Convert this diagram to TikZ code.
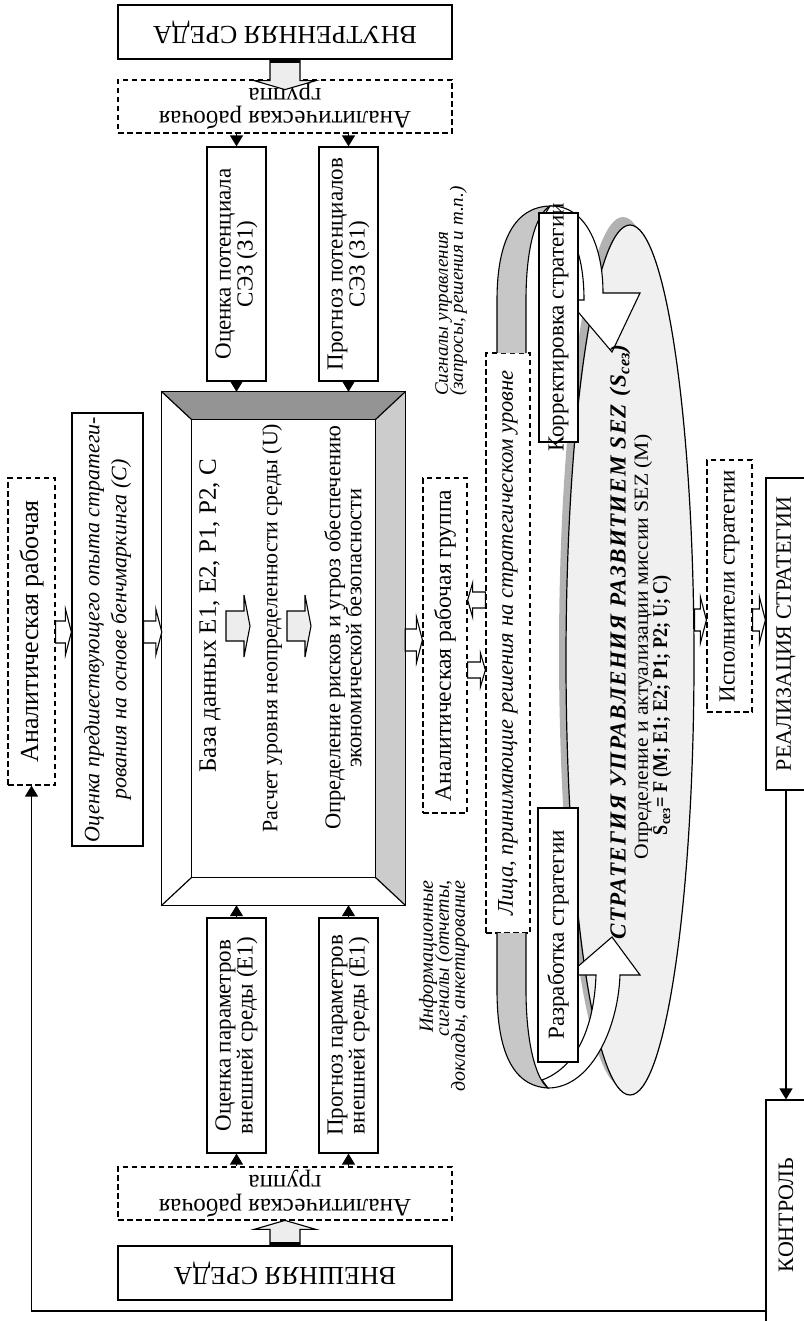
\documentclass[tikz,border=0pt]{standalone}
\usepackage{fontspec}
\setmainfont{Liberation Serif}
\newfontfamily\condfont[FakeStretch=0.8]{Liberation Serif}
\newfontfamily\spfont[LetterSpace=6]{Liberation Serif}
\usetikzlibrary{calc,fit,arrows.meta,shapes.geometric}
\newcommand{\fs}[2]{\fontsize{#1}{#2}\selectfont}
\newcommand{\rt}[1]{\rotatebox{90}{\vbox{\lineskiplimit=-100pt\let\\\cr\halign{\hfil##\hfil\cr#1\crcr}}}}
\newcommand{\rtl}[1]{\rotatebox{90}{\vbox{\lineskiplimit=-100pt\let\\\cr\halign{##\hfil\cr#1\crcr}}}}
\newcommand{\rtr}[1]{\rotatebox{90}{\vbox{\lineskiplimit=-100pt\let\\\cr\halign{\hfil##\cr#1\crcr}}}}
\newcommand{\rtd}[1]{\rotatebox{180}{\vbox{\lineskiplimit=-100pt\let\\\cr\halign{\hfil##\hfil\cr#1\crcr}}}}
% box with centred text: [text options]{box style}{name}{corner}{corner}{text}
\newcommand{\bx}[6][]{\node[#2,fit={(#4)(#5)}] (#3) {};\node[inner sep=0pt,#1] (#3-t) at (#3.center) {#6};}
% block arrows: #1 from, #2 to, #3 half shaft, #4 half head, #5 head length, #6 style
\newcommand{\bR}[6]{\draw[#6] ($(#1)+(0,-#3)$) -- ($(#2)+(-#5,-#3)$) -- ($(#2)+(-#5,-#4)$) -- (#2) -- ($(#2)+(-#5,#4)$) -- ($(#2)+(-#5,#3)$) -- ($(#1)+(0,#3)$) -- cycle;}
\newcommand{\bL}[6]{\draw[#6] ($(#1)+(0,-#3)$) -- ($(#2)+(#5,-#3)$) -- ($(#2)+(#5,-#4)$) -- (#2) -- ($(#2)+(#5,#4)$) -- ($(#2)+(#5,#3)$) -- ($(#1)+(0,#3)$) -- cycle;}
\newcommand{\bD}[6]{\draw[#6] ($(#1)+(-#3,0)$) -- ($(#2)+(-#3,-#5)$) -- ($(#2)+(-#4,-#5)$) -- (#2) -- ($(#2)+(#4,-#5)$) -- ($(#2)+(#3,-#5)$) -- ($(#1)+(#3,0)$) -- cycle;}
\newcommand{\bU}[6]{\draw[#6] ($(#1)+(-#3,0)$) -- ($(#2)+(-#3,#5)$) -- ($(#2)+(-#4,#5)$) -- (#2) -- ($(#2)+(#4,#5)$) -- ($(#2)+(#3,#5)$) -- ($(#1)+(#3,0)$) -- cycle;}
\begin{document}
\begin{tikzpicture}[x=1pt,y=-1pt,line join=miter,
  box/.style={draw,line width=1.2pt,fill=white,inner sep=0pt},
  dbox/.style={box,dash pattern=on 5.5pt off 3.5pt},
  con/.style={line width=1.3pt,-{Triangle[length=11pt,width=13pt]}},
  blk/.style={draw,line width=1.1pt,fill=white},
  gblk/.style={blk,fill=black!7}]
\useasboundingbox (0,0) rectangle (803,1321);
% ---- top
\bx[font=\fs{26}{26}]{box}{inner}{118,5}{452,59}{\rtd{ВНУТРЕННЯЯ СРЕДА}}
\bx[font=\fs{25}{23.5}]{dbox}{dtop}{118,80}{452,133}{\rtd{Аналитическая рабочая\\группа}}
\coordinate (tipA) at ($(inner.south)+(0,30)$);
\bD{inner.south}{tipA}{15}{31}{9}{gblk}
\draw[line width=3pt] ($(inner.south)+(-15,1.5)$) -- ($(inner.south)+(15,1.5)$);
\bx[font=\fs{23}{22}]{box}{p1}{207,147}{266,381}{\rt{Оценка потенциала\\СЭЗ (З1)}}
\bx[font=\fs{23}{22}]{box}{p2}{319,147}{378,381}{\rt{Прогноз потенциалов\\СЭЗ (З1)}}
% ---- frame
\node[fit={(162,392)(405,905)},inner sep=0pt] (fr) {};
\node[fit={(192,420)(375,877)},inner sep=0pt] (fi) {};
\fill[black!42] (fr.north west) -- (fr.north east) -- (fi.north east) -- (fi.north west) -- cycle;
\fill[black!20] (fr.north east) -- (fr.south east) -- (fi.south east) -- (fi.north east) -- cycle;
\draw[line width=1.2pt] (fr.north west) rectangle (fr.south east);
\draw[line width=1.2pt] (fi.north west) rectangle (fi.south east);
\draw[line width=1.2pt] (fr.north west) -- (fi.north west) (fr.north east) -- (fi.north east)
  (fr.south west) -- (fi.south west) (fr.south east) -- (fi.south east);
\node[inner sep=0pt,font=\fs{25}{25}] (t1) at (210,616) {\rt{База данных Е1, Е2, Р1, Р2, С}};
\node[inner sep=0pt,font=\fs{22}{22}] (t2) at (272,628) {\rt{Расчет уровня неопределенности среды (U)}};
\node[inner sep=0pt,font=\fs{22.5}{21}] (t3) at (343,628) {\rt{Определение рисков и угроз обеспечению\\экономической безопасности}};
\coordinate (a1s) at (226,626); \coordinate (a1e) at (250,626);
\coordinate (a2s) at (287,626); \coordinate (a2e) at (311,626);
\bR{a1s}{a1e}{15}{31}{6}{gblk}
\bR{a2s}{a2e}{15}{31}{6}{gblk}
\draw[con] (p1.north |- dtop.south) -- (p1.north);
\draw[con] (p2.north |- dtop.south) -- (p2.north);
\draw[con] (p1.south) -- (p1.south |- fr.north);
\draw[con] (p2.south) -- (p2.south |- fr.north);
% ---- bottom
\bx[font=\fs{23}{22}]{box}{e1}{207,918}{266,1153}{\rt{Оценка параметров\\внешней среды (Е1)}}
\bx[font=\fs{23}{22}]{box}{e2}{319,918}{378,1153}{\rt{Прогноз параметров\\внешней среды (Е1)}}
\bx[font=\fs{25}{23.5}]{dbox}{dbot}{118,1167}{452,1220}{\rtd{Аналитическая рабочая\\группа}}
\bx[font=\fs{26}{26}]{box}{outer}{118,1246}{452,1300}{\rtd{ВНЕШНЯЯ СРЕДА}}
\coordinate (tipB) at ($(outer.north)+(0,-25)$);
\bU{outer.north}{tipB}{15}{31}{9}{gblk}
\draw[line width=3pt] ($(outer.north)+(-15,-1.5)$) -- ($(outer.north)+(15,-1.5)$);
\draw[con] (e1.south |- dbot.north) -- (e1.south);
\draw[con] (e2.south |- dbot.north) -- (e2.south);
\draw[con] (e1.north) -- (e1.north |- fr.south);
\draw[con] (e2.north) -- (e2.north |- fr.south);
% ---- left
\bx[font=\fs{26}{26}]{dbox}{lw}{8,478}{55,785}{\rt{Аналитическая рабочая}}
\bx[font=\itshape\fs{22}{27}]{box}{opyt}{72,413}{143,846}{\rt{Оценка предшествующего опыта стратеги-\\рования на основе бенчмаркинга (С)}}
\coordinate (yL) at (0,632);
\bR{lw.east |- yL}{opyt.west |- yL}{11}{23}{6}{blk}
\bR{opyt.east |- yL}{fr.west |- yL}{11}{23}{6}{blk}
% ---- right column
\bx[font=\fs{23.5}{25}]{dbox}{amid}{423,478}{467,813}{\rt{Аналитическая рабочая группа}}
\bx[font=\itshape\fs{22.5}{25}]{dbox}{lpr}{486,353}{530,933}{\rt{Лица, принимающие решения на стратегическом уровне}}
\coordinate (yM) at (0,640);
\bR{fr.east |- yM}{amid.west |- yM}{11}{23}{6}{blk}
\coordinate (yK) at (0,600);
\bL{lpr.west |- yK}{amid.east |- yK}{8}{17}{5}{blk}
\coordinate (yJ) at (0,670);
\bR{amid.east |- yJ}{lpr.west |- yJ}{8}{17}{5}{blk}
\node[inner sep=0pt,anchor=south,font=\itshape\fs{19}{15}] (sig) at (451,396)
  {\rtl{Сигналы управления\\(запросы, решения и т.п.)}};
\node[inner sep=0pt,anchor=north,font=\itshape\fs{20}{16}] (info) at (444,880)
  {\rtr{Информационные\\сигналы (отчеты,\\доклады, анкетирование}};
% ---- ellipse
\fill[black!30] (623,652) ellipse [x radius=64, y radius=435];
\node[ellipse,draw,line width=1.2pt,fill=black!6,minimum width=128pt,minimum height=870pt,inner sep=0pt] (el) at (630,660) {};
% ---- curved arrows
\filldraw[fill=black!22,line width=1.1pt] (497,353) -- (497,300) .. controls (497,240) and (515,207) .. (550,206)
  .. controls (535,215) and (526,250) .. (526,300) -- (526,353);
\filldraw[fill=white,line width=1.1pt] (550,206) .. controls (585,205) and (603,245) .. (603,293) -- (640,293) -- (612,352)
  -- (568,300) -- (584,300) .. controls (584,255) and (572,222) .. (545,214) -- cycle;
\filldraw[fill=black!22,line width=1.1pt] (497,933) -- (497,990) .. controls (497,1050) and (512,1086) .. (548,1088)
  .. controls (535,1078) and (526,1040) .. (526,990) -- (526,933);
\filldraw[fill=white,line width=1.1pt] (548,1088) .. controls (590,1088) and (618,1030) .. (620,975) -- (640,975) -- (612,937)
  -- (568,975) -- (596,975) .. controls (594,1030) and (575,1068) .. (542,1080) -- cycle;
\bx[font=\fs{23}{23}]{box}{korr}{539,213}{578,442}{\rt{Корректировка стратегии}}
\bx[font=\fs{23}{23}]{box}{razr}{538,808}{578,1062}{\rt{Разработка стратегии}}
\node[inner sep=0pt] (s1) at (620,642) {\rotatebox{90}{\resizebox{595pt}{\height}{\fs{23}{24}\spfont\bfseries\itshape СТРАТЕГИЯ УПРАВЛЕНИЯ РАЗВИТИЕМ SEZ (S\textsubscript{сез})}}};
\node[inner sep=0pt] (s2) at (643,647) {\rotatebox{90}{\resizebox{425pt}{\height}{\fs{20}{20}\condfont Определение и актуализации миссии SEZ (M)}}};
\node[inner sep=0pt] (s3) at (662,705) {\rotatebox{90}{\resizebox{260pt}{\height}{\fs{21}{21}\condfont\bfseries S\textsubscript{сез}= F (M; E1; E2; P1; P2; U; C)}}};
% ---- far right
\bx[font=\fs{23}{23}]{dbox}{isp}{707,460}{752,712}{\rt{Исполнители стратегии}}
\bx[font=\fs{22}{22}]{box}{real}{766,478}{806,790}{\rt{РЕАЛИЗАЦИЯ СТРАТЕГИИ}}
\bx[font=\fs{22}{22}]{box}{kon}{766,1100}{806,1330}{\rt{КОНТРОЛЬ}}
\coordinate (yR) at (0,620);
\bR{el.east |- yR}{isp.west |- yR}{11}{23}{6}{blk}
\bR{isp.east |- yR}{real.west |- yR}{11}{23}{6}{blk}
\draw[con] (real.south) -- (kon.north);
\coordinate (fb) at (0,1311);
\draw[con] (kon.west |- fb) -| (lw.south);
\end{tikzpicture}
\end{document}
